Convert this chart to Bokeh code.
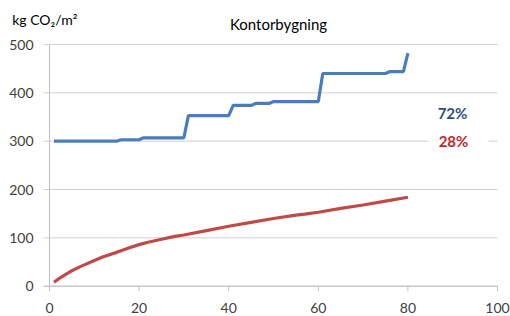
from bokeh.plotting import figure
from bokeh.models import Range1d
from bokeh.core.properties import value
from bokeh.embed import file_html
from bokeh.resources import INLINE

# ---------------- data ----------------
x_blue = [1, 15, 16, 20, 21, 30, 31, 40, 41, 45, 46, 49, 50, 60, 61, 75, 76, 79, 80]
y_blue = [300, 300, 303, 303, 307, 307, 353, 353, 374, 374, 378, 378, 382, 382, 440, 440, 444, 444, 482]

x_red = [1, 2, 3, 5, 7, 10, 12, 15, 18, 20, 22, 25, 28, 30, 35, 40, 45, 50, 55, 57, 60, 65, 70, 75, 80]
y_red = [8, 15, 21, 32, 41, 53, 61, 70, 80, 86, 91, 97, 103, 106, 115, 124, 132, 140, 147, 149, 153, 161, 168, 176, 184]

x_ticks = [0, 20, 40, 60, 80, 100]
y_ticks = [0, 100, 200, 300, 400, 500]
x_tick_labels = [str(t) for t in x_ticks]
y_tick_labels = [str(t) for t in y_ticks]

title_text = "Kontorbygning"
y_unit_text = "kg CO₂/m²"
share_labels = ["72%", "28%"]

# ---------------- layout (pixels inside the figure) ----------------
W, H = 510, 316
PX_X0, PX_X100 = 49.0, 497.0      # pixel column of x=0 and x=100
PX_Y0, PX_Y500 = 285.7, 44.0      # pixel row of y=0 and y=500
sx = (PX_X100 - PX_X0) / 100.0
sy = (PX_Y0 - PX_Y500) / 500.0

def dx(px):   # figure pixel column -> data x
    return (px - PX_X0) / sx

def dy(py):   # figure pixel row -> data y
    return (PX_Y0 - py) / sy

FONT = "Lato"
BLUE = "#4A7EBB"
RED = "#BE4B48"
GRID = "#d0d0d0"
AXIS = "#bfbfbf"
TICK_TXT = "#404040"

p = figure(width=W, height=H,
           x_range=Range1d(dx(0), dx(W)), y_range=Range1d(dy(H), dy(0)),
           x_axis_location=None, y_axis_location=None,
           output_backend="svg", toolbar_location=None,
           min_border=0)
p.outline_line_color = None
p.background_fill_color = "white"
p.border_fill_color = "white"
for g in p.grid:
    g.visible = False

tick_len_x = 6 / sx   # left tick length in data units
tick_len_y = 5 / sy   # downward tick length in data units

# horizontal grid lines (extend left as tick marks)
p.segment(x0=[-tick_len_x] * len(y_ticks), x1=[100] * len(y_ticks),
          y0=y_ticks, y1=y_ticks, line_color=GRID, line_width=1)
# y axis line
p.segment(x0=[0], x1=[0], y0=[0], y1=[500], line_color=AXIS, line_width=1)
# x axis line and ticks
p.segment(x0=[-tick_len_x], x1=[100], y0=[0], y1=[0], line_color=AXIS, line_width=1)
p.segment(x0=x_ticks, x1=x_ticks, y0=[0] * len(x_ticks), y1=[-tick_len_y] * len(x_ticks),
          line_color=AXIS, line_width=1)

# white gap behind the 28% label
p.rect(x=[dx(458)], y=[300], width=60, height=6,
       width_units="screen", height_units="screen",
       fill_color="white", line_color=None)

# series
p.line(x_blue, y_blue, line_color=BLUE, line_width=3.2)
p.line(x_red, y_red, line_color=RED, line_width=3.2)

# tick labels
p.text(x=[dx(33)] * len(y_ticks), y=y_ticks, text=y_tick_labels,
       text_font=value(FONT), text_font_size="14px", text_color=TICK_TXT,
       text_align="right", text_baseline="middle")
p.text(x=x_ticks, y=[dy(307)] * len(x_ticks), text=x_tick_labels,
       text_font=value(FONT), text_font_size="14px", text_color=TICK_TXT,
       text_align="center", text_baseline="middle")

# title and unit label
p.text(x=[dx(278)], y=[dy(23)], text=[title_text],
       text_font=value(FONT), text_font_size="15px", text_color="black",
       text_align="center", text_baseline="middle")
p.text(x=[dx(11.7)], y=[dy(19)], text=[y_unit_text],
       text_font=value(FONT), text_font_size="14px", text_color="black",
       text_align="left", text_baseline="middle")

# share labels
p.text(x=[dx(452)], y=[dy(112.5)], text=[share_labels[0]],
       text_font=value(FONT), text_font_size="15px", text_font_style="bold",
       text_color="#2E4D7B", text_align="center", text_baseline="middle")
p.text(x=[dx(453)], y=[dy(140.8)], text=[share_labels[1]],
       text_font=value(FONT), text_font_size="15px", text_font_style="bold",
       text_color="#C0272D", text_align="center", text_baseline="middle")

open("out.html", "w").write(file_html(p, INLINE))
